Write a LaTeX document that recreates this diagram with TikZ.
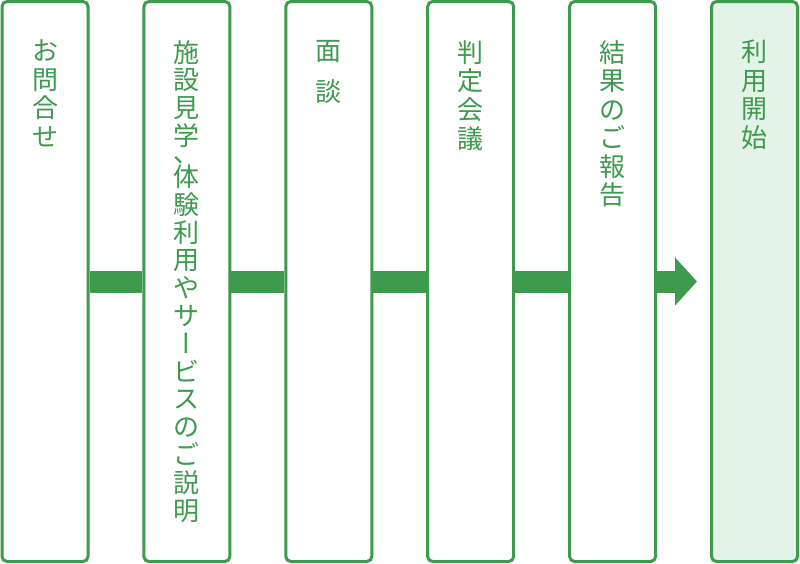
\documentclass[tikz,border=0pt]{standalone}
\usepackage{fontspec}
\setmainfont{Noto Sans CJK JP}
\newfontfamily\tatefont[RawFeature=+vert]{Noto Sans CJK JP}
\usetikzlibrary{arrows.meta}
\definecolor{flowgreen}{RGB}{62,154,79}
\definecolor{flowpale}{RGB}{227,243,232}
\tikzset{
  stage/.style={draw=flowgreen, line width=3pt, rounded corners=5pt,
    minimum width=86pt, minimum height=560pt, inner sep=0pt},
  stagetext/.style={anchor=north, inner sep=0pt, text=flowgreen, align=center},
  flowbar/.style={draw=flowgreen, line width=22pt},
}
\begin{document}
\begin{tikzpicture}[x=1pt, y=-1pt]
\useasboundingbox (0,0) rectangle (800,563);
\foreach \i/\c in {1/white,2/white,3/white,4/white,5/white,6/flowpale} {
  \node[stage, fill=\c] (box\i) at ({45+141.9*(\i-1)},281.5) {};
}
\foreach \i/\s/\t in {1/28.5/{お\\問\\合\\せ},
    2/27.8/{施\\設\\見\\学\\[-10.8pt]、\\[-3.8pt]体\\験\\利\\用\\や\\サ\\{\tatefont ー}\\ビ\\ス\\の\\ご\\説\\明},
    3/28.5/{面\\[13pt]談}, 4/28.8/{判\\定\\会\\議}, 5/28.5/{結\\果\\の\\ご\\報\\告},
    6/28.5/{利\\用\\開\\始}} {
  \node[stagetext, font=\fontsize{26}{\s}\selectfont] (label\i) at ([yshift=-40pt]box\i.north) {\t};
}
\coordinate (tip) at (697,281.5);
\foreach \i [evaluate=\i as \j using int(\i+1)] in {1,...,4} {
  \draw[flowbar] (box\i) -- (box\j);
}
\draw[flowbar, -{Triangle[width=47pt, length=22pt]}] (box5) -- (tip);
\end{tikzpicture}
\end{document}
